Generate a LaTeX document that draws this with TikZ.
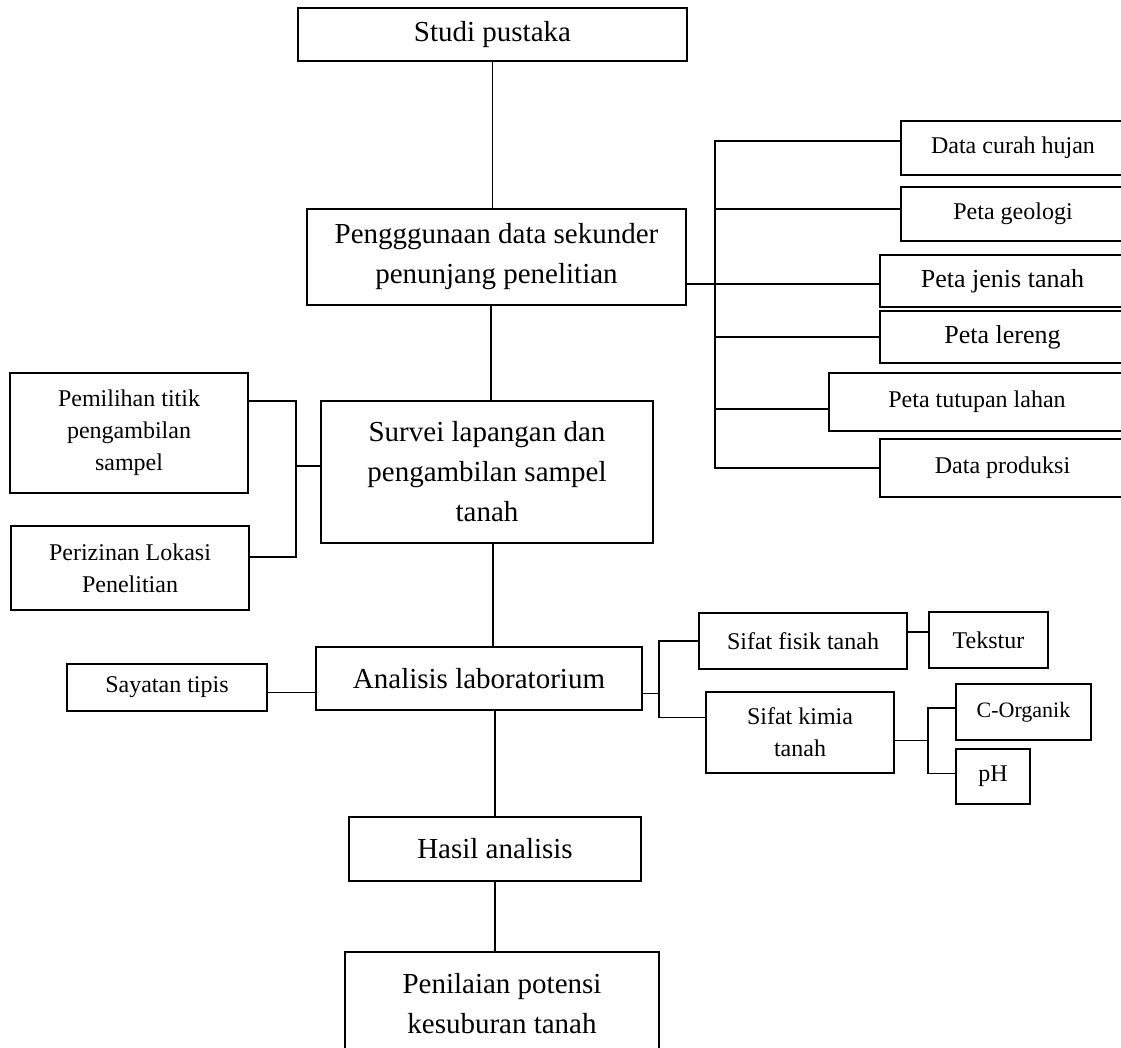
\documentclass[tikz,border=0pt]{standalone}
\usepackage{fontspec}
\setmainfont{Liberation Serif}
\begin{document}
\begin{tikzpicture}[x=1pt,y=-1pt,
		box/.style={draw,line width=1.2pt,rectangle,inner sep=0pt,align=center},
		big/.style={box,font=\fontsize{29}{40}\selectfont},
		mid/.style={box,font=\fontsize{26}{34}\selectfont},
		sml/.style={box,font=\fontsize{24}{32}\selectfont},
		link/.style={line width=1.8pt}]
		\clip (0,0) rectangle (1121,1048);
		% main column
		\node (St) at (492.5,34.5) [big,minimum width=389pt,minimum height=53pt] {Studi pustaka};
		\node (Pe) at (496.5,257) [big,minimum width=379pt,minimum height=96pt] {Pengggunaan data sekunder\\penunjang penelitian};
		\node (Su) at (487,472) [big,minimum width=332pt,minimum height=142pt] {Survei lapangan dan\\pengambilan sampel\\tanah};
		\node (An) at (479,678.5) [big,minimum width=326pt,minimum height=63pt] {Analisis laboratorium};
		\node (Ha) at (495,849) [big,minimum width=292pt,minimum height=64pt] {Hasil analisis};
		\node (Pn) at (502,1003.5) [big,minimum width=314pt,minimum height=103pt] {Penilaian potensi\\kesuburan tanah};
		% data sekunder
		\node (Dc) at (1013,148) [sml,minimum width=224pt,minimum height=54pt] {Data curah hujan};
		\node (Pg) at (1013,214) [sml,minimum width=224pt,minimum height=54pt] {Peta geologi};
		\node (Pj) at (1002.5,281) [mid,minimum width=245pt,minimum height=52pt] {Peta jenis tanah};
		\node (Pl) at (1002.5,337) [mid,minimum width=245pt,minimum height=52pt] {Peta lereng};
		\node (Pt) at (977,402) [sml,minimum width=296pt,minimum height=58pt] {Peta tutupan lahan};
		\node (Dp) at (1002.5,468) [sml,minimum width=245pt,minimum height=58pt] {Data produksi};
		% survei
		\node (Pm) at (129,433) [sml,minimum width=238pt,minimum height=120pt] {Pemilihan titik\\pengambilan\\sampel};
		\node (Pz) at (130,568) [sml,minimum width=238pt,minimum height=84pt] {Perizinan Lokasi\\Penelitian};
		% laboratorium
		\node (Sy) at (167,687.5) [sml,minimum width=200pt,minimum height=47pt] {Sayatan tipis};
		\node (Sf) at (803,641) [sml,minimum width=208pt,minimum height=56pt] {Sifat fisik tanah};
		\node (Sk) at (800,732.5) [sml,minimum width=188pt,minimum height=81pt] {Sifat kimia\\tanah};
		\node (Tk) at (988.5,640) [sml,minimum width=119pt,minimum height=56pt] {Tekstur};
		\node (Co) at (1023.5,712) [sml,minimum width=135pt,minimum height=56pt,font=\fontsize{22}{30}\selectfont] {C-Organik};
		\node (pH) at (993,776.5) [sml,minimum width=74pt,minimum height=55pt] {pH};
		\coordinate (rt) at (715,0);
		\coordinate (lj) at (296,466);
		\coordinate (aj) at (659,0);
		\coordinate (kj) at (928,0);
		% connectors
		\draw[link] (St.south) -- (St.south |- Pe.north);
		\draw[link] ([xshift=4pt]Su.north) -- ([xshift=4pt]Su.north |- Pe.south);
		\draw[link] ([xshift=6pt]Su.south) -- ([xshift=6pt]Su.south |- An.north);
		\draw[link] (Ha.north) -- (Ha.north |- An.south);
		\draw[link] (Ha.south) -- (Ha.south |- Pn.north);
		\draw[link] ([yshift=7pt]Dc.west) -- ([yshift=7pt]Dc.west -| rt) -- (rt |- Dp.west) -- (Dp.west);
		\draw[link] ([yshift=5pt]Pg.west) -- ([yshift=5pt]Pg.west -| rt);
		\draw[link] ([yshift=-3pt]Pj.west) -- ([yshift=-3pt]Pj.west -| Pe.east);
		\draw[link] (Pl.west) -- (Pl.west -| rt);
		\draw[link] ([yshift=-7pt]Pt.west) -- ([yshift=-7pt]Pt.west -| rt);
		\draw[link] ([yshift=32pt]Pm.east) -| (lj) |- ([yshift=11pt]Pz.east);
		\draw[link] (lj) -- (lj -| Su.west);
		\draw[link] ([yshift=-5pt]Sy.east) -- ([yshift=-5pt]Sy.east -| An.west);
		\draw[link] ([yshift=-15pt]An.east) -- ([yshift=-15pt]An.east -| aj);
		\draw[link] (Sf.west) -- (Sf.west -| aj) -- ([yshift=15pt]Sk.west -| aj) -- ([yshift=15pt]Sk.west);
		\draw[link] ([yshift=8pt]Tk.west) -- ([yshift=8pt]Tk.west -| Sf.east);
		\draw[link] ([yshift=-8pt]Sk.east) -- ([yshift=-8pt]Sk.east -| kj);
		\draw[link] ([yshift=4pt]Co.west) -- ([yshift=4pt]Co.west -| kj) -- ([yshift=3pt]pH.west -| kj) -- ([yshift=3pt]pH.west);
	\end{tikzpicture}
\end{document}
